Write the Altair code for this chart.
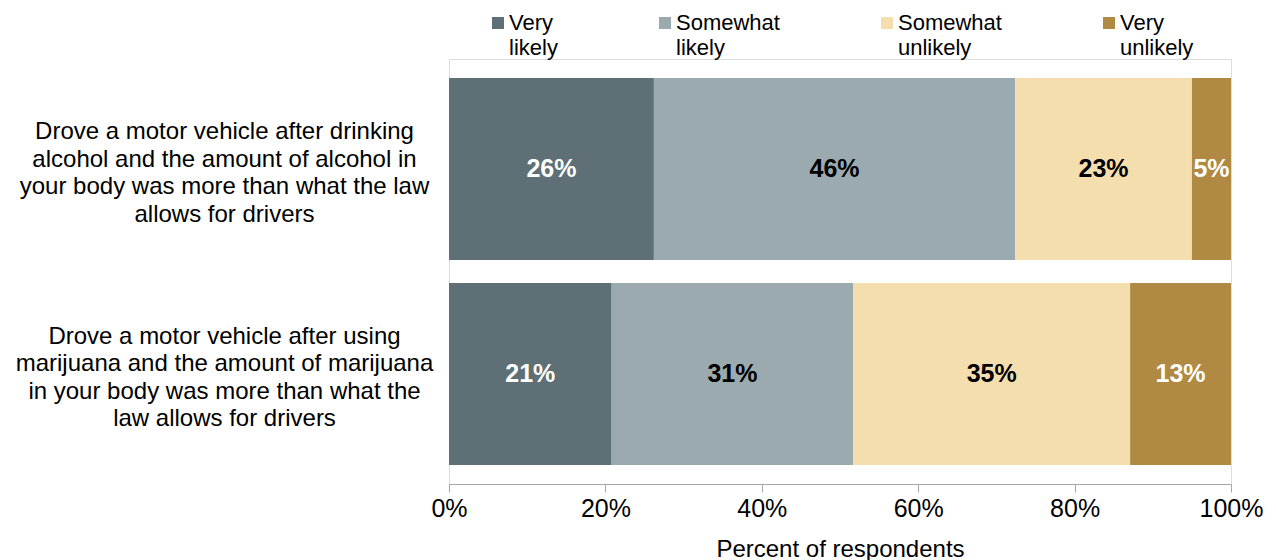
import altair as alt
import pandas as pd

items = [
    "Drove a motor vehicle after drinking|alcohol and the amount of alcohol in|your body was more than what the law|allows for drivers",
    "Drove a motor vehicle after using|marijuana and the amount of marijuana|in your body was more than what the|law allows for drivers",
]
responses = ["Very likely", "Somewhat likely", "Somewhat unlikely", "Very unlikely"]
colors = ["#5E6F75", "#9AAAAE", "#F4DEAE", "#B08A43"]
label_colors = ["#FFFFFF", "#000000", "#000000", "#FFFFFF"]
alcohol = [26.2, 46.2, 22.6, 5.0]
marijuana = [20.8, 30.9, 35.4, 12.9]
tick_values = [0, 20, 40, 60, 80, 100]

rows = []
for item, vals in zip(items, [alcohol, marijuana]):
    for i, (r, v) in enumerate(zip(responses, vals)):
        rows.append({"item": item, "response": r, "ord": i, "value": v, "lc": label_colors[i]})
df = pd.DataFrame(rows)

FONT = "Liberation Sans, Arial, sans-serif"

y_enc = alt.Y(
    "item:N",
    sort=items,
    scale=alt.Scale(paddingInner=0.112, paddingOuter=0.093),
    axis=alt.Axis(
        title=None,
        labelExpr="split(datum.label, '|')",
        ticks=False,
        domain=False,
        labelAlign="center",
        labelBaseline="middle",
        labelPadding=225,
        labelOffset=-37,
        labelFontSize=24,
        labelLineHeight=27.5,
        labelLimit=600,
        labelColor="#000000",
        labelFont=FONT,
    ),
)

base = alt.Chart(df)

bars = base.mark_bar().encode(
    y=y_enc,
    x=alt.X(
        "value:Q",
        stack="zero",
        scale=alt.Scale(domain=[0, 100], nice=False),
        axis=alt.Axis(
            values=tick_values,
            labelExpr="datum.value + '%'",
            title="Percent of respondents",
            grid=False,
            domainColor="#A6A6A6",
            tickColor="#A6A6A6",
            tickSize=8,
            labelPadding=4,
            labelFontSize=25,
            labelFont=FONT,
            labelColor="#000000",
            labelFlush=False,
            labelOverlap=False,
            titleFontSize=24,
            titleFont=FONT,
            titleFontWeight="normal",
            titleColor="#000000",
            titlePadding=16,
        ),
    ),
    color=alt.Color(
        "response:N",
        scale=alt.Scale(domain=responses, range=colors),
        legend=alt.Legend(
            title=None,
            orient="none",
            legendX=38,
            legendY=-47,
            direction="horizontal",
            symbolType="square",
            symbolSize=144,
            symbolStrokeWidth=0,
            symbolOpacity=1,
            labelExpr="split(datum.label, ' ')",
            labelFontSize=22,
            labelFont=FONT,
            labelColor="#000000",
            labelBaseline="middle",
            labelOffset=0,
            columnPadding=96,
            labelLimit=300,
        ),
    ),
    order=alt.Order("ord:Q"),
)

text = (
    base.transform_stack(
        stack="value",
        groupby=["item"],
        as_=["v0", "v1"],
        sort=[alt.SortField("ord", order="ascending")],
    )
    .transform_calculate(mid="(datum.v0 + datum.v1) / 2", lbl="round(datum.value) + '%'")
    .mark_text(fontWeight="bold", fontSize=25, font=FONT, baseline="middle", align="center")
    .encode(
        y=alt.Y("item:N", sort=items),
        x=alt.X("mid:Q"),
        text="lbl:N",
        color=alt.Color("lc:N", scale=None),
    )
)

chart = (
    alt.layer(bars, text)
    .resolve_scale(color="independent")
    .properties(
        width=782,
        height=425,
        autosize=alt.AutoSizeParams(type="none"),
        padding={"left": 449, "top": 59, "right": 45, "bottom": 76},
    )
    .configure_view(stroke=None)
    .configure(font=FONT, style={"guide-label": {"lineHeight": 25}})
)

chart.save("out.html", embed_options={"renderer": "svg", "actions": False})
